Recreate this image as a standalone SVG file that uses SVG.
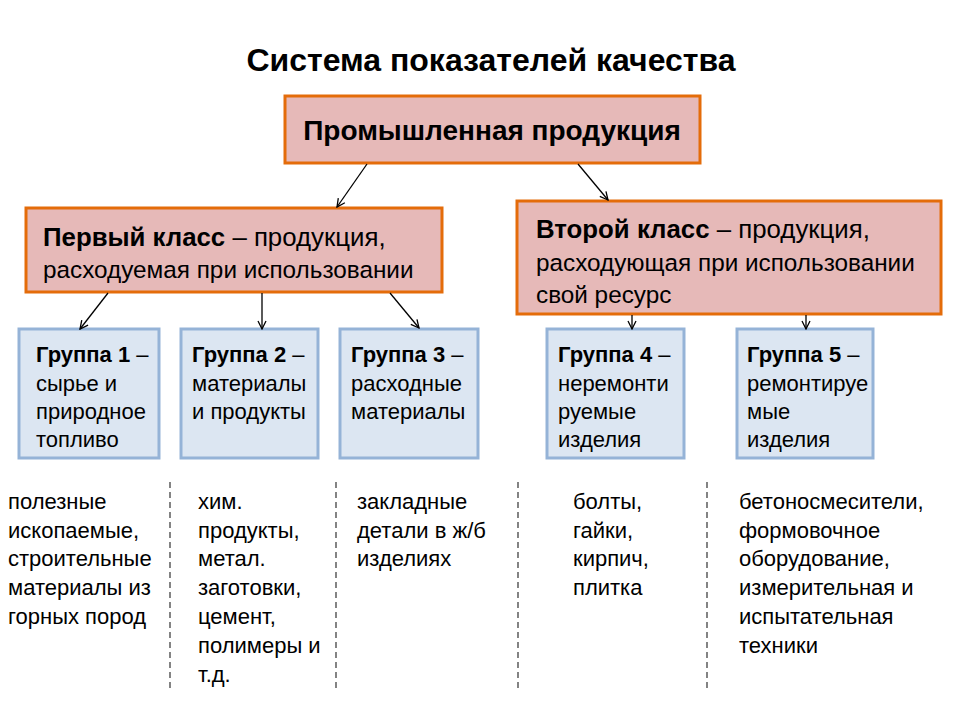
<svg xmlns="http://www.w3.org/2000/svg" width="960" height="720" viewBox="0 0 960 720">
<defs>
<marker id="ah" viewBox="0 0 10 10" refX="9" refY="5" markerWidth="10" markerHeight="10" markerUnits="userSpaceOnUse" orient="auto">
<path d="M1,1 L9,5 L1,9" fill="none" stroke="#000" stroke-width="1.3"/>
</marker>
</defs>
<style>
text{font-family:"Liberation Sans","Open Sans",sans-serif;fill:#000}
.t{font-size:32px;font-weight:bold}
.cls{fill:#e6b9b8;stroke:#e46c0a;stroke-width:3}
.grp{fill:#dce6f2;stroke:#95b3d7;stroke-width:3}
.h{font-size:28px;font-weight:bold}
.l1{font-size:25.8px}
.l2{font-size:24.3px}
.b{font-weight:bold}
.g{font-size:22px}
.n{font-size:22px}
.c line{stroke:#000;stroke-width:1.3}
.d{stroke:#333;stroke-width:1.2;stroke-dasharray:6 4;fill:none}
</style>
<rect width="960" height="720" fill="#fff"/>
<text class="t" x="491" y="71" text-anchor="middle">Система показателей качества</text>

<g id="top">
<rect class="cls" x="285" y="96" width="415" height="67"/>
<text class="h" x="492" y="140" text-anchor="middle">Промышленная продукция</text>
</g>
<g id="class1">
<rect class="cls" x="26" y="208" width="416" height="84"/>
<text class="l1" x="43" y="246"><tspan class="b">Первый класс</tspan> – продукция,</text>
<text class="l2" x="43" y="278">расходуемая при использовании</text>
</g>
<g id="class2">
<rect class="cls" x="517" y="201" width="424" height="113"/>
<text class="l1" x="536" y="238"><tspan class="b">Второй класс</tspan> – продукция,</text>
<text class="l2" x="536" y="271">расходующая при использовании</text>
<text class="l2" x="536" y="303">свой ресурс</text>
</g>

<g id="g1">
<rect class="grp" x="19" y="329" width="140" height="129"/>
<text class="g" x="36" y="362"><tspan class="b">Группа 1</tspan> –</text>
<text class="g" x="36" y="391">сырье и</text>
<text class="g" x="36" y="419">природное</text>
<text class="g" x="36" y="447">топливо</text>
</g>
<g id="g2">
<rect class="grp" x="181" y="329" width="137" height="129"/>
<text class="g" x="192" y="362"><tspan class="b">Группа 2</tspan> –</text>
<text class="g" x="192" y="391">материалы</text>
<text class="g" x="192" y="419">и продукты</text>
</g>
<g id="g3">
<rect class="grp" x="340" y="329" width="138" height="129"/>
<text class="g" x="351" y="362"><tspan class="b">Группа 3</tspan> –</text>
<text class="g" x="351" y="391">расходные</text>
<text class="g" x="351" y="419">материалы</text>
</g>
<g id="g4">
<rect class="grp" x="547" y="329" width="137" height="129"/>
<text class="g" x="558" y="362"><tspan class="b">Группа 4</tspan> –</text>
<text class="g" x="558" y="391">неремонти</text>
<text class="g" x="558" y="419">руемые</text>
<text class="g" x="558" y="447">изделия</text>
</g>
<g id="g5">
<rect class="grp" x="737" y="329" width="136" height="129"/>
<text class="g" x="747" y="362"><tspan class="b">Группа 5</tspan> –</text>
<text class="g" x="747" y="391">ремонтируе</text>
<text class="g" x="747" y="419">мые</text>
<text class="g" x="747" y="447">изделия</text>
</g>

<g class="c" id="connectors">
<line x1="367" y1="164" x2="337" y2="207" marker-end="url(#ah)"/>
<line x1="578" y1="164" x2="608" y2="200" marker-end="url(#ah)"/>
<line x1="108" y1="293" x2="80" y2="329" marker-end="url(#ah)"/>
<line x1="262" y1="293" x2="262" y2="329" marker-end="url(#ah)"/>
<line x1="390" y1="293" x2="419" y2="328" marker-end="url(#ah)"/>
<line x1="632" y1="315" x2="632" y2="329" marker-end="url(#ah)"/>
<line x1="806" y1="315" x2="806" y2="329" marker-end="url(#ah)"/>
</g>

<g id="dividers">
<line class="d" x1="170" y1="482" x2="170" y2="690"/>
<line class="d" x1="336" y1="482" x2="336" y2="690"/>
<line class="d" x1="518" y1="482" x2="518" y2="690"/>
<line class="d" x1="707" y1="482" x2="707" y2="690"/>
</g>

<g id="ex1">
<text class="n" x="8" y="509">полезные</text>
<text class="n" x="8" y="538">ископаемые,</text>
<text class="n" x="8" y="566">строительные</text>
<text class="n" x="8" y="595">материалы из</text>
<text class="n" x="8" y="624">горных пород</text>
</g>
<g id="ex2">
<text class="n" x="198" y="509">хим.</text>
<text class="n" x="198" y="538">продукты,</text>
<text class="n" x="198" y="566">метал.</text>
<text class="n" x="198" y="595">заготовки,</text>
<text class="n" x="198" y="624">цемент,</text>
<text class="n" x="198" y="653">полимеры и</text>
<text class="n" x="198" y="682">т.д.</text>
</g>
<g id="ex3">
<text class="n" x="357" y="509">закладные</text>
<text class="n" x="357" y="538">детали в ж/б</text>
<text class="n" x="357" y="566">изделиях</text>
</g>
<g id="ex4">
<text class="n" x="573" y="509">болты,</text>
<text class="n" x="573" y="538">гайки,</text>
<text class="n" x="573" y="566">кирпич,</text>
<text class="n" x="573" y="595">плитка</text>
</g>
<g id="ex5">
<text class="n" x="739" y="509">бетоносмесители,</text>
<text class="n" x="739" y="538">формовочное</text>
<text class="n" x="739" y="566">оборудование,</text>
<text class="n" x="739" y="595">измерительная и</text>
<text class="n" x="739" y="624">испытательная</text>
<text class="n" x="739" y="653">техники</text>
</g>
</svg>
